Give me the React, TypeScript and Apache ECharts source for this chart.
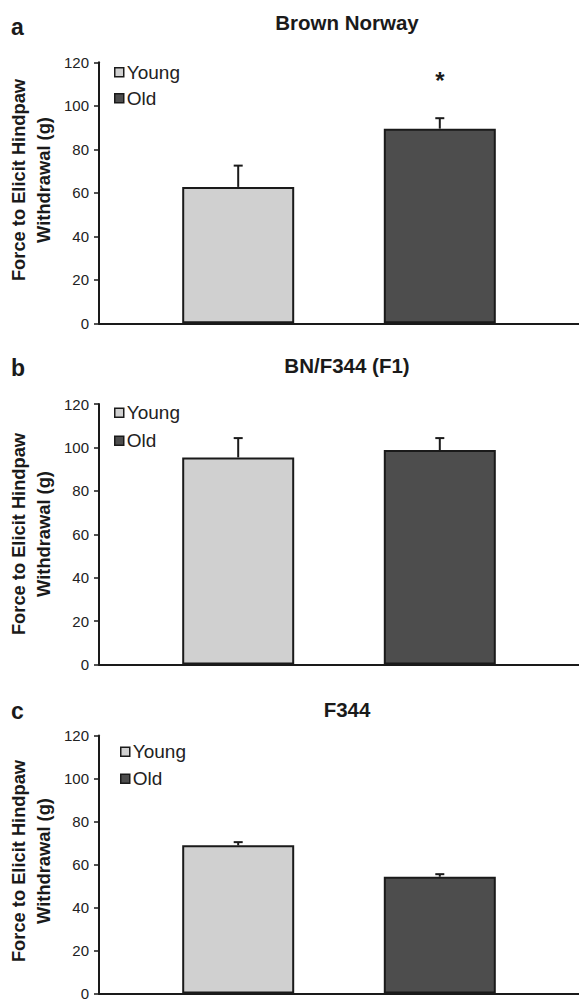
import React, { useEffect, useRef } from 'react';
import * as echarts from 'echarts';

// ---- data ----
const panelLetters = ['a', 'b', 'c'];
const panelTitles = ['Brown Norway', 'BN/F344 (F1)', 'F344'];
const groups = ['Young', 'Old'];
const youngMean = [62.7, 95.4, 68.9];
const youngErr = [9.8, 8.9, 1.5];
const oldMean = [89.5, 98.8, 54.3];
const oldErr = [4.8, 5.5, 1.2];
const youngSig = ['', '', ''];
const oldSig = ['*', '', ''];
const yMin = 0;
const yMax = 120;
const yInterval = 20;
const yAxisTitle = 'Force to Elicit Hindpaw\nWithdrawal (g)';

// ---- layout / style ----
const FONT = '"Liberation Sans", Arial, Helvetica, sans-serif';
const INK = '#1a1a1a';
const YOUNG_COLOR = '#d0d0d0';
const OLD_COLOR = '#4d4d4d';
const GRID_LEFT = 99;
const GRID_RIGHT = -5;
const gridTops = [62.3, 404, 735.5];
const gridHeights = [261, 260.6, 264];
const BAR_W = 112;
const BAR_GAP = 0.8;
const ERR_OFFSET = (BAR_W + BAR_W * BAR_GAP) / 2;
const LEGEND_FONT = 19;
const legendTops = [57.8, 398.3, 737.3];
const legendLefts = [109, 109, 115];
const legendGaps = [7, 9, 8];
const titleTops = [7, 350, 694];
const letterTops = [10, 351, 694];
const nameCenters = [180, 534, 861];

export default function App() {
  const ref = useRef<HTMLDivElement>(null);
  useEffect(() => {
    if (!ref.current) return;
    const chart = echarts.init(ref.current, null, { renderer: 'svg' });

    const grids: any[] = [];
    const xAxes: any[] = [];
    const yAxes: any[] = [];
    const series: any[] = [];
    const legends: any[] = [];
    const titles: any[] = [];
    const graphics: any[] = [];

    panelTitles.forEach((t, k) => {
      grids.push({ left: GRID_LEFT, right: GRID_RIGHT, top: gridTops[k], height: gridHeights[k] });
      xAxes.push({
        type: 'category', gridIndex: k, data: [''],
        axisLine: { lineStyle: { color: INK, width: 2 } },
        axisTick: { show: false }, axisLabel: { show: false },
      });
      yAxes.push({
        type: 'value', gridIndex: k, min: yMin, max: yMax, interval: yInterval,
        splitLine: { show: false },
        axisLine: { show: true, lineStyle: { color: INK, width: 2 } },
        axisTick: { show: true, length: 5, lineStyle: { color: INK, width: 1.5 } },
        axisLabel: { color: '#222', fontSize: 15, fontFamily: FONT, margin: 10 },
      });
      series.push({
        type: 'bar', name: groups[0], xAxisIndex: k, yAxisIndex: k,
        data: [youngMean[k]], barWidth: BAR_W, barGap: `${BAR_GAP * 100}%`,
        itemStyle: { color: YOUNG_COLOR, borderColor: INK, borderWidth: 2 },
      });
      series.push({
        type: 'bar', name: groups[1], xAxisIndex: k, yAxisIndex: k,
        data: [oldMean[k]], barWidth: BAR_W, barGap: `${BAR_GAP * 100}%`,
        itemStyle: { color: OLD_COLOR, borderColor: INK, borderWidth: 2 },
      });
      const sigs = [youngSig[k], oldSig[k]];
      series.push({
        type: 'custom', xAxisIndex: k, yAxisIndex: k, z: 5,
        encode: { x: 0, y: 1 },
        data: [[0, youngMean[k], youngErr[k], 0], [0, oldMean[k], oldErr[k], 1]],
        renderItem: (params: any, api: any) => {
          const mean = api.value(1);
          const err = api.value(2);
          const which = api.value(3);
          const base = api.coord([0, mean]);
          const top = api.coord([0, mean + err]);
          const x = base[0] + (which === 0 ? -1 : 1) * ERR_OFFSET;
          const children: any[] = [
            { type: 'line', shape: { x1: x, y1: base[1], x2: x, y2: top[1] }, style: { stroke: INK, lineWidth: 2 } },
            { type: 'line', shape: { x1: x - 4.5, y1: top[1], x2: x + 4.5, y2: top[1] }, style: { stroke: INK, lineWidth: 2 } },
          ];
          const s = sigs[params.dataIndex];
          if (s) {
            children.push({
              type: 'text', x, y: top[1] - 38,
              style: { text: s, fill: INK, font: `bold 24px ${FONT}`, align: 'center', verticalAlign: 'middle' },
            });
          }
          return { type: 'group', children };
        },
      });
      legends.push({
        data: groups, orient: 'vertical', left: legendLefts[k], top: legendTops[k],
        itemWidth: 9, itemHeight: 9, itemGap: legendGaps[k], icon: 'rect', selectedMode: false,
        itemStyle: { borderColor: INK, borderWidth: 1.5 },
        textStyle: { fontSize: LEGEND_FONT, fontFamily: FONT, color: '#222', padding: [0, 0, 0, -2] },
      });
      titles.push({
        text: t, left: 342, top: titleTops[k], textAlign: 'center',
        textStyle: { fontSize: 20.5, fontWeight: 'bold', fontFamily: FONT, color: INK },
      });
      titles.push({
        text: panelLetters[k], left: 6, top: letterTops[k],
        textStyle: { fontSize: 23, fontWeight: 'bold', fontFamily: FONT, color: INK },
      });
      graphics.push({
        type: 'text', x: 31, y: nameCenters[k], rotation: Math.PI / 2,
        style: {
          text: yAxisTitle, fill: INK, font: `bold 18.3px ${FONT}`,
          align: 'center', verticalAlign: 'middle', lineHeight: 25,
        },
      });
    });

    chart.setOption({
      animation: false,
      backgroundColor: '#ffffff',
      title: titles,
      legend: legends,
      grid: grids,
      xAxis: xAxes,
      yAxis: yAxes,
      series,
      graphic: graphics,
    });
    return () => chart.dispose();
  }, []);
  return <div ref={ref} style={{ position: 'absolute', left: 0, top: 0, width: 579, height: 1001 }} />;
}
